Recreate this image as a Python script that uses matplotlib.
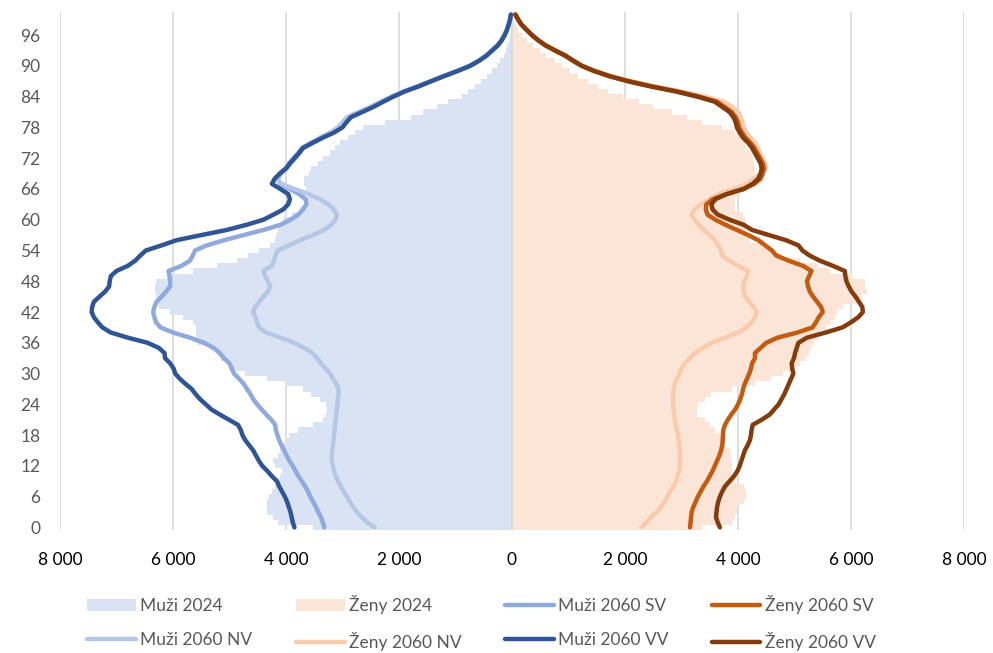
import numpy as np
import matplotlib.pyplot as plt
from matplotlib.ticker import FuncFormatter, FixedLocator

plt.rcParams["font.family"] = ["Lato", "DejaVu Sans"]

ages = np.arange(0, 101)

# population 2024 by single age
muzi_2024 = [
    3520, 4150, 4230, 4340, 4340, 4340, 4300, 4250, 4200, 4150,
    4100, 4070, 4200, 4230, 4150, 4100, 4050, 4000, 3950, 3790,
    3520, 3350, 3300, 3280, 3300, 3400, 3550, 3700, 3990, 4340,
    4730, 4960, 4980, 5150, 5200, 5350, 5580, 5600, 5600, 5600,
    5650, 5820, 6050, 6250, 6280, 6300, 6320, 6320, 6300, 6110,
    5650, 5220, 4870, 4680, 4470, 4280, 4200, 4170, 4150, 4100,
    4050, 3900, 3750, 3650, 3620, 3620, 3650, 3680, 3680, 3600,
    3550, 3430, 3340, 3220, 3130, 3040, 2900, 2780, 2640, 2250,
    1780, 1570, 1330, 1130, 890, 770, 655, 540, 450, 360,
    270, 210, 150, 110, 80, 60, 40, 25, 15, 8,
    5,
]
zeny_2024 = [
    3360, 3900, 3950, 3980, 4000, 4100, 4150, 4150, 4100, 3950,
    3900, 3890, 3890, 3880, 3870, 3850, 3770, 3770, 3700, 3590,
    3500, 3420, 3270, 3270, 3300, 3420, 3530, 3890, 4300, 4580,
    4800, 4950, 5100, 5200, 5250, 5300, 5350, 5390, 5450, 5550,
    5650, 5720, 5750, 5860, 6100, 6200, 6280, 6250, 6250, 6010,
    5630, 5420, 5100, 4770, 4600, 4420, 4210, 4150, 4150, 4150,
    4120, 4080, 3950, 3950, 3950, 3970, 4100, 4270, 4300, 4300,
    4300, 4280, 4260, 4240, 4150, 4120, 4060, 3950, 3710, 3360,
    3090, 2830, 2500, 2240, 1970, 1700, 1530, 1350, 1170, 1030,
    880, 760, 610, 500, 380, 260, 170, 110, 70, 40,
    25,
]

# projection 2060: SV = medium, NV = low, VV = high variant
muzi_2060_sv = [
    3320, 3350, 3380, 3430, 3470, 3520, 3570, 3610, 3660, 3720,
    3780, 3830, 3880, 3940, 3990, 4030, 4080, 4120, 4150, 4180,
    4190, 4260, 4350, 4430, 4510, 4580, 4630, 4690, 4750, 4830,
    4920, 4960, 5000, 5100, 5170, 5280, 5450, 5700, 6000, 6220,
    6300, 6330, 6350, 6330, 6290, 6200, 6120, 6050, 6050, 6060,
    6080, 5850, 5700, 5650, 5610, 5400, 5100, 4750, 4400, 4100,
    3920, 3780, 3700, 3640, 3650, 3770, 3930, 4100, 4150, 4090,
    3990, 3920, 3840, 3760, 3690, 3520, 3350, 3170, 3030, 2960,
    2880, 2680, 2480, 2300, 2110, 1910, 1660, 1440, 1210, 970,
    750, 590, 455, 355, 255, 185, 130, 90, 60, 35,
    20,
]
muzi_2060_nv = [
    2430, 2560, 2660, 2740, 2810, 2870, 2920, 2980, 3030, 3080,
    3120, 3150, 3170, 3190, 3190, 3180, 3170, 3160, 3150, 3140,
    3130, 3120, 3110, 3100, 3090, 3080, 3070, 3070, 3110, 3170,
    3220, 3300, 3380, 3450, 3530, 3680, 3850, 4100, 4350, 4480,
    4510, 4540, 4580, 4550, 4470, 4400, 4320, 4280, 4320, 4370,
    4400, 4250, 4210, 4190, 4150, 3950, 3750, 3520, 3330, 3200,
    3120, 3100, 3150, 3250, 3400, 3600, 3850, 4080, 4170, 4100,
    4010, 3950, 3870, 3790, 3720, 3560, 3400, 3220, 3080, 3000,
    2920, 2720, 2510, 2330, 2140, 1930, 1680, 1450, 1220, 980,
    760, 600, 460, 360, 260, 190, 135, 95, 60, 35,
    20,
]
muzi_2060_vv = [
    3850, 3880, 3900, 3920, 3950, 3980, 4020, 4070, 4120, 4160,
    4250, 4330, 4420, 4480, 4530, 4580, 4650, 4720, 4770, 4800,
    4850, 5010, 5170, 5320, 5420, 5520, 5600, 5670, 5780, 5880,
    5960, 5990, 6050, 6140, 6150, 6250, 6450, 6800, 7100, 7250,
    7330, 7400, 7440, 7430, 7400, 7300, 7200, 7130, 7120, 7100,
    7000, 6800, 6670, 6580, 6480, 6200, 5940, 5500, 5050, 4700,
    4400, 4220, 4050, 3960, 3930, 3960, 4100, 4250, 4200, 4110,
    4000, 3930, 3850, 3770, 3700, 3530, 3350, 3150, 3000, 2930,
    2850, 2650, 2450, 2280, 2100, 1900, 1650, 1430, 1200, 960,
    740, 580, 450, 350, 250, 180, 130, 90, 60, 35,
    20,
]
zeny_2060_sv = [
    3150, 3160, 3170, 3180, 3210, 3250, 3290, 3340, 3390, 3450,
    3500, 3550, 3590, 3630, 3670, 3700, 3720, 3730, 3735, 3740,
    3770, 3820, 3880, 3950, 4000, 4040, 4070, 4090, 4120, 4160,
    4200, 4230, 4250, 4300, 4300, 4400, 4500, 4700, 5050, 5320,
    5380, 5430, 5500, 5470, 5400, 5330, 5270, 5240, 5220, 5260,
    5300, 5150, 4900, 4680, 4600, 4480, 4360, 4180, 3980, 3780,
    3600, 3460, 3430, 3440, 3550, 3800, 4100, 4290, 4400, 4440,
    4460, 4440, 4390, 4340, 4290, 4220, 4130, 4070, 4020, 4000,
    3960, 3890, 3760, 3630, 3310, 2930, 2470, 2070, 1730, 1460,
    1240, 1090, 945, 765, 595, 465, 355, 262, 172, 112,
    60,
]
zeny_2060_nv = [
    2290, 2380, 2460, 2560, 2640, 2700, 2750, 2800, 2860, 2900,
    2930, 2960, 2970, 2975, 2975, 2970, 2960, 2950, 2940, 2920,
    2900, 2880, 2870, 2860, 2850, 2850, 2855, 2860, 2880, 2920,
    2970, 3000, 3060, 3150, 3240, 3380, 3530, 3780, 4000, 4150,
    4240, 4300, 4330, 4280, 4200, 4130, 4100, 4090, 4110, 4150,
    4180, 4010, 3850, 3720, 3700, 3650, 3590, 3500, 3400, 3300,
    3230, 3180, 3230, 3350, 3500, 3650, 3920, 4150, 4280, 4400,
    4500, 4480, 4430, 4390, 4350, 4300, 4220, 4150, 4100, 4080,
    4050, 4000, 3900, 3750, 3420, 3000, 2520, 2110, 1760, 1480,
    1250, 1095, 950, 768, 598, 468, 358, 264, 174, 114,
    60,
]
zeny_2060_vv = [
    3680, 3640, 3610, 3620, 3630, 3650, 3680, 3720, 3770, 3850,
    3930, 3990, 4030, 4060, 4090, 4120, 4170, 4210, 4230, 4240,
    4260, 4420, 4560, 4640, 4720, 4770, 4820, 4860, 4900, 4940,
    4980, 4960, 4950, 4990, 5010, 5040, 5070, 5220, 5550, 5850,
    6000, 6130, 6210, 6200, 6140, 6080, 6010, 5960, 5920, 5900,
    5890, 5680, 5450, 5270, 5140, 5070, 4850, 4550, 4250, 4100,
    3850, 3640, 3550, 3530, 3600, 3800, 4100, 4260, 4360, 4400,
    4420, 4400, 4350, 4300, 4250, 4180, 4090, 4030, 3980, 3960,
    3920, 3850, 3720, 3590, 3280, 2900, 2450, 2050, 1720, 1450,
    1230, 1080, 940, 760, 590, 460, 350, 260, 170, 110,
    60,
]

fig = plt.figure(figsize=(9.93, 6.53), dpi=100)
ax = fig.add_axes([0.0604, 0.1884, 0.9104, 0.7932])

ax.barh(ages, -np.array(muzi_2024), height=1.0, color="#DAE3F3",
        label="Muži 2024", zorder=2)
ax.barh(ages, zeny_2024, height=1.0, color="#FBE5D6",
        label="Ženy 2024", zorder=2)
ax.axvline(0, color="#D9D9D9", lw=1.2, zorder=3)

lw = 3.2
l_m_sv, = ax.plot(-np.array(muzi_2060_sv), ages, color="#8FAADC", lw=lw,
                  label="Muži 2060 SV", zorder=4, solid_capstyle="round")
l_z_sv, = ax.plot(zeny_2060_sv, ages, color="#C55A11", lw=lw,
                  label="Ženy 2060 SV", zorder=4, solid_capstyle="round")
l_m_nv, = ax.plot(-np.array(muzi_2060_nv), ages, color="#B4C7E7", lw=lw,
                  label="Muži 2060 NV", zorder=4, solid_capstyle="round")
l_z_nv, = ax.plot(zeny_2060_nv, ages, color="#F8CBAD", lw=lw,
                  label="Ženy 2060 NV", zorder=3.9, solid_capstyle="round")
l_m_vv, = ax.plot(-np.array(muzi_2060_vv), ages, color="#2F5597", lw=lw,
                  label="Muži 2060 VV", zorder=5, solid_capstyle="round")
l_z_vv, = ax.plot(zeny_2060_vv, ages, color="#843C0C", lw=lw,
                  label="Ženy 2060 VV", zorder=5, solid_capstyle="round")

ax.set_xlim(-8000, 8000)
ax.set_ylim(-0.5, 100.5)
ax.xaxis.set_major_locator(FixedLocator(np.arange(-8000, 8001, 2000)))
ax.xaxis.set_major_formatter(
    FuncFormatter(lambda v, p: f"{abs(int(v)):,}".replace(",", " ")))
ax.set_yticks(np.arange(0, 97, 6))

ax.grid(axis="x", color="#D9D9D9", lw=1.2, zorder=0)
ax.set_axisbelow(True)
for s in ax.spines.values():
    s.set_visible(False)
ax.tick_params(axis="both", length=0)
ax.tick_params(axis="x", labelsize=12.5, colors="black", pad=16)
ax.tick_params(axis="y", labelsize=12.5, labelcolor="#595959", pad=14)

handles, labels = ax.get_legend_handles_labels()
order = {lab: h for h, lab in zip(handles, labels)}
col_major = ["Muži 2024", "Muži 2060 NV", "Ženy 2024", "Ženy 2060 NV",
             "Muži 2060 SV", "Muži 2060 VV", "Ženy 2060 SV", "Ženy 2060 VV"]
leg = fig.legend([order[k] for k in col_major], col_major, ncol=4,
                 loc="center", bbox_to_anchor=(0.485, 0.046),
                 frameon=False, fontsize=12.5, handlelength=2.8,
                 handletextpad=0.25, columnspacing=2.5, labelspacing=1.0)
for t in leg.get_texts():
    t.set_color("#595959")

fig.savefig("out.png", dpi=100)
